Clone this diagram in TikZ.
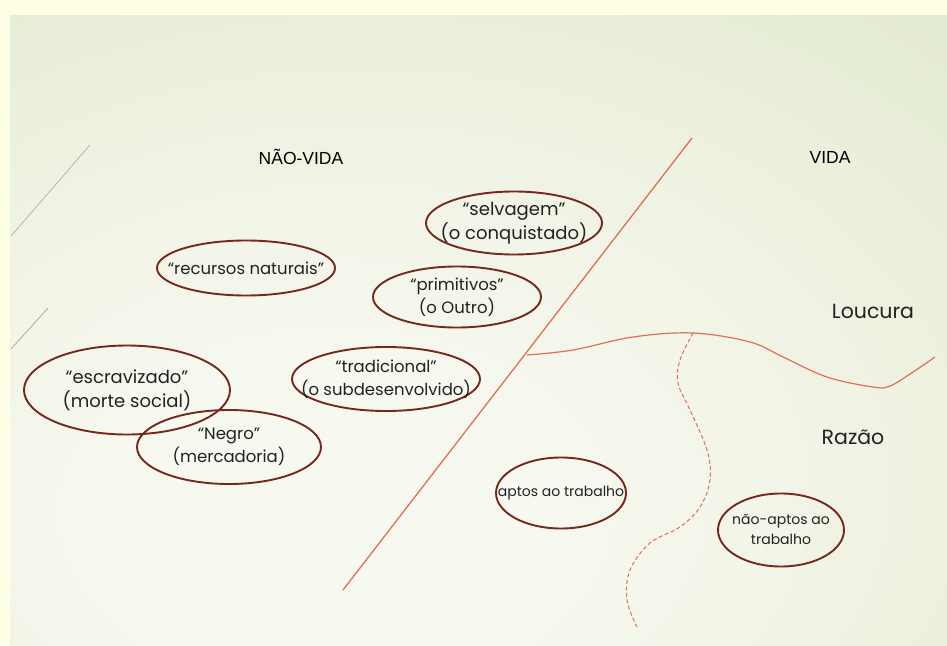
\documentclass[tikz,border=0pt]{standalone}
\usepackage{fontspec}
\setmainfont{Poppins}
\newfontfamily\headfont{Liberation Sans}
\usepackage{tikz}
\usetikzlibrary{shapes.geometric}

\definecolor{paper}{RGB}{254,255,228}
\definecolor{bgin}{RGB}{247,248,240}
\definecolor{bgmid}{RGB}{238,242,225}
\definecolor{bgout}{RGB}{216,228,190}
\definecolor{blobline}{RGB}{118,40,28}
\definecolor{cutline}{RGB}{224,112,84}
\definecolor{ink}{RGB}{34,34,34}

\pgfdeclareradialshading{bgglow}{\pgfpoint{-9bp}{-17bp}}{color(0bp)=(bgin); color(12bp)=(bgin); color(30bp)=(bgmid); color(62bp)=(bgout); color(100bp)=(bgout)}

\begin{document}
\begin{tikzpicture}[x=1pt,y=-1pt]

		\tikzstyle{blob}  = [ellipse, draw=blobline, line width=1.9pt, inner xsep=-60pt, inner ysep=-30pt, text=ink, align=center, font=\fontsize{16.5}{23}\selectfont]
		\tikzstyle{big blob}  = [blob, font=\fontsize{18}{24}\selectfont]
		\tikzstyle{small blob}  = [blob, font=\fontsize{14}{20}\selectfont]
		\tikzstyle{side}  = [text=black, font=\headfont\fontsize{17.5}{20}\selectfont]
		\tikzstyle{zone}  = [text=ink, font=\fontsize{20.5}{24}\selectfont]
		\tikzstyle{cut}   = [draw=cutline, line width=1.3pt]

		\useasboundingbox (0,0) rectangle (947,645);
		\fill [paper] (0,0) rectangle (947,645);
		\shade [shading=bgglow] (10,15) rectangle (947,645);

		% faint strokes on the left edge
		\draw [gray!70, line width=0.6pt] (90,145) -- (11,236);
		\draw [gray!80, line width=0.6pt] (48,308) -- (11,349);

		\node [side] (nv) at (301,157) {NÃO-VIDA};
		\node [side] (v) at (830,157) {VIDA};
		\node [zone] (louc) at (873,311) {Loucura};
		\node [zone] (raz) at (853,437) {Razão};

		% the dividing line
		\coordinate (top) at (692,138);
		\coordinate (bot) at (343,590);
		\draw [cut] (top) -- (bot);

		\coordinate (w0) at (527,355);
		\coordinate (w1) at (693,333);
		\coordinate (w2) at (935,357);
		\draw [cut, line width=1.2pt] plot [smooth, tension=0.6] coordinates {(w0) (573,350) (633,337) (w1) (750,342) (783,357) (827,377) (873,387) (890,386) (913,372) (w2)};
		\coordinate (d1) at (637,627);
		\draw [cut, line width=1pt, dash pattern=on 4pt off 2.5pt] plot [smooth, tension=0.6] coordinates {(w1) (680,360) (678,383) (690,410) (707,450) (710,480) (700,507) (680,527) (650,543) (630,570) (627,600) (d1)};

		\node [big blob, minimum width=176pt, minimum height=63pt] (selv) at (514,223) {“selvagem"\\(o conquistado)};
		\node [blob, minimum width=178pt, minimum height=55pt] (rec) at (246,268) {“recursos naturais"};
		\node [blob, minimum width=168pt, minimum height=61pt] (prim) at (457,297) {“primitivos"\\(o Outro)};
		\node [blob, minimum width=188pt, minimum height=64pt] (trad) at (386,379) {“tradicional"\\(o subdesenvolvido)};
		\node [big blob, minimum width=206pt, minimum height=89pt] (esc) at (127,390) {“escravizado"\\(morte social)};
		\node [blob, minimum width=184pt, minimum height=74pt] (neg) at (229,447) {“Negro"\\(mercadoria)};
		\node [small blob, minimum width=130pt, minimum height=71pt] (apt) at (561,493) {aptos ao trabalho};
		\node [small blob, minimum width=126pt, minimum height=73pt] (napt) at (781,530) {não-aptos ao\\trabalho};
\end{tikzpicture}
\end{document}
